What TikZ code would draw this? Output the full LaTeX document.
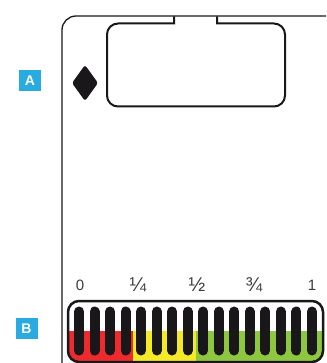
\documentclass[tikz,border=0pt]{standalone}
\usepackage{fontspec}
\setmainfont{Liberation Sans}
\usetikzlibrary{positioning}
\definecolor{tagblue}{HTML}{29ABE2}
\definecolor{inkblack}{HTML}{1A171B}
\definecolor{zonered}{HTML}{ED2A2E}
\definecolor{zoneyellow}{HTML}{F4EB26}
\definecolor{zonegreen}{HTML}{8DC63F}
\tikzset{
  cardline/.style={draw=inkblack,line width=1.3pt},
  windowline/.style={draw=inkblack,line width=2pt,rounded corners=11pt},
  tagbox/.style={fill=tagblue,text=white,font=\bfseries\fontsize{14}{14}\selectfont,
    minimum width=22pt,minimum height=21pt,inner sep=0pt},
  scalelbl/.style={text=inkblack!85,font=\fontsize{15}{15}\selectfont,inner sep=0pt},
  fraclbl/.style={scalelbl,font=\fontsize{20}{20}\selectfont},
  gaugebar/.style={draw=inkblack,line width=10pt,line cap=round},
  gaugebox/.style={draw=inkblack,line width=2.5pt,rounded corners=11pt},
}
\begin{document}
\begin{tikzpicture}[x=1pt,y=-1pt]
  \useasboundingbox (0,0) rectangle (326,363);
  \clip (0,0) rectangle (326,363);
  % card
  \draw[cardline,rounded corners=14pt] (62,380) -- (62,16) -- (345,16) -- (345,380) -- cycle;
  % window
  \draw[windowline] (174,16.5) [sharp corners] -- (174,23.5) -- (150,23.5) [rounded corners=11pt]
    -- (107,23.5) -- (107,106.5) -- (285,106.5) -- (285,23.5) -- (240,23.5) [sharp corners]
    -- (217,23.5) -- (217,16.5);
  \fill[inkblack,rounded corners=2.5pt] (85,65) -- (98,83) -- (85,101) -- (72,83) -- cycle;
  \node[tagbox] (tagA) at (30,81) {A};
  \node[tagbox] (tagB) at (26.5,328.5) {B};
  % gauge
  \begin{scope}
    \clip[rounded corners=11pt] (68,301) rectangle (323,362);
    \fill[zonered] (68,331) rectangle (133,362);
    \fill[zoneyellow] (133,331) rectangle (196,362);
    \fill[zonegreen] (196,331) rectangle (323,362);
  \end{scope}
  \foreach \i in {0,...,15}
    \draw[gaugebar] ({79+15.53*\i},311.5) -- ({79+15.53*\i},350.5);
  \draw[gaugebox] (68,301) rectangle (323,362);
  % scale
  \node[scalelbl] (szero) at (80,285) {0};
  \node[scalelbl] (sone) at (312,285) {1};
  \foreach \x/\t/\name in {138/¼/sfourth,197/½/shalf,254/¾/sthreeq}
    \node[fraclbl] (\name) at (\x,285) {\t};
\end{tikzpicture}
\end{document}
